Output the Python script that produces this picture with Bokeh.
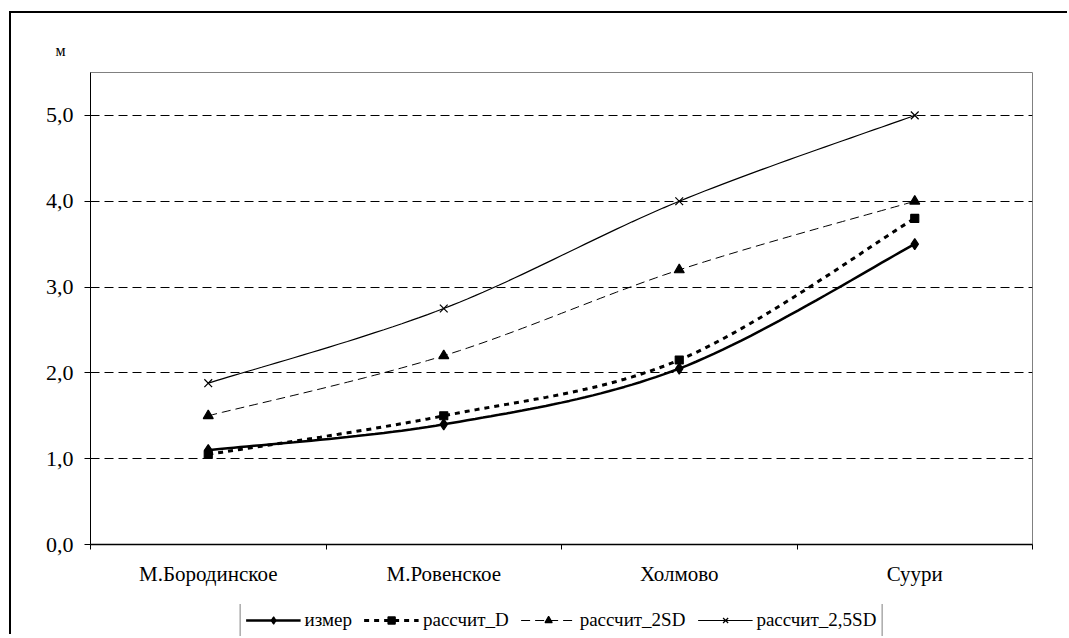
from bokeh.plotting import figure
from bokeh.layouts import column
from bokeh.models import FixedTicker, Range1d, Legend, LegendItem, Title
from bokeh.embed import file_html
from bokeh.resources import INLINE
import numpy as np

categories = ["М.Бородинское", "М.Ровенское", "Холмово", "Суури"]
izmer = [1.1, 1.4, 2.05, 3.5]
rasschit_D = [1.05, 1.5, 2.15, 3.8]
rasschit_2SD = [1.5, 2.2, 3.2, 4.0]
rasschit_25SD = [1.88, 2.75, 4.0, 5.0]
series_names = ["измер", "рассчит_D", "рассчит_2SD", "рассчит_2,5SD"]
y_ticks = [0, 1, 2, 3, 4, 5]
y_tick_labels = ["0,0", "1,0", "2,0", "3,0", "4,0", "5,0"]
unit_label = "м"

FONT = "Liberation Serif"
W = 1058


def smooth(xs, ys, n=30):
    """Excel-style smoothed line (Catmull-Rom / Bezier) through the data points."""
    px = [xs[0]] + list(xs) + [xs[-1]]
    py = [ys[0]] + list(ys) + [ys[-1]]
    ox, oy = [], []
    segs = len(xs) - 1
    for i in range(1, segs + 1):
        x0, x1, x2, x3 = px[i - 1], px[i], px[i + 1], px[i + 2]
        y0, y1, y2, y3 = py[i - 1], py[i], py[i + 1], py[i + 2]
        c1x, c1y = x1 + (x2 - x0) / 6.0, y1 + (y2 - y0) / 6.0
        c2x, c2y = x2 - (x3 - x1) / 6.0, y2 - (y3 - y1) / 6.0
        ts = np.linspace(0, 1, n, endpoint=(i == segs))
        for t in ts:
            a = (1 - t) ** 3
            b = 3 * (1 - t) ** 2 * t
            c = 3 * (1 - t) * t ** 2
            d = t ** 3
            ox.append(a * x1 + b * c1x + c * c2x + d * x2)
            oy.append(a * y1 + b * c1y + c * c2y + d * y2)
    return ox, oy


xs = [i + 0.5 for i in range(len(categories))]

title = Title(text=unit_label, align="left", offset=-35, standoff=27,
              text_font=FONT, text_font_size="16px", text_font_style="normal",
              text_color="black")

p = figure(width=W, height=582, output_backend="svg", toolbar_location=None,
           x_range=Range1d(0, len(categories)), y_range=Range1d(0, 5.5),
           min_border_left=79, min_border_right=W + 11 - 1032, min_border_top=59,
           min_border_bottom=51, title=title)
p.background_fill_color = "white"
p.border_fill_color = "white"
p.outline_line_color = "#808080"
p.outline_line_width = 1

# axes
p.xaxis.ticker = FixedTicker(ticks=xs, minor_ticks=list(range(len(categories) + 1)))
p.xaxis.major_label_overrides = {x: c for x, c in zip(xs, categories)}
p.xaxis.major_tick_out = 0
p.xaxis.major_tick_in = 0
p.xaxis.minor_tick_out = 5
p.xaxis.minor_tick_in = 0
p.xaxis.major_label_standoff = 12
p.xaxis.axis_line_color = "black"
p.xaxis.axis_line_width = 1.5
p.xaxis.minor_tick_line_color = "black"
p.xaxis.major_label_text_font = FONT
p.xaxis.major_label_text_font_size = "21px"
p.xaxis.major_label_text_color = "black"

p.yaxis.ticker = FixedTicker(ticks=y_ticks, minor_ticks=[])
p.yaxis.major_label_overrides = {t: l for t, l in zip(y_ticks, y_tick_labels)}
p.yaxis.major_tick_out = 6
p.yaxis.major_tick_in = 0
p.yaxis.major_label_standoff = 11
p.yaxis.axis_line_color = "black"
p.yaxis.axis_line_width = 1
p.yaxis.major_tick_line_color = "black"
p.yaxis.major_label_text_font = FONT
p.yaxis.major_label_text_font_size = "22px"
p.yaxis.major_label_text_color = "black"

p.xgrid.grid_line_color = None
p.ygrid.ticker = FixedTicker(ticks=[t for t in y_ticks if t > 0])
p.ygrid.grid_line_color = "black"
p.ygrid.grid_line_dash = "9 5"
p.ygrid.grid_line_width = 1

styles = [
    dict(data=izmer, width=2.5, dash="solid", marker="diamond", size=11),
    dict(data=rasschit_D, width=3, dash="5 5", marker="square", size=8),
    dict(data=rasschit_2SD, width=1, dash="9 5", marker="triangle", size=10),
    dict(data=rasschit_25SD, width=1.2, dash="solid", marker="x", size=11),
]

# legend strip: a separate small canvas below the chart, its ranges kept away from
# the series so that only the legend shows
pl = figure(width=W, height=32, output_backend="svg", toolbar_location=None,
            x_range=Range1d(-20, -19), y_range=Range1d(-20, -19), min_border=0,
            min_border_left=79, min_border_right=W + 11 - 1032,
            x_axis_type=None, y_axis_type=None)
pl.outline_line_color = None
pl.xgrid.visible = False
pl.ygrid.visible = False
pl.background_fill_color = "white"
pl.border_fill_color = "white"
pl.margin = (9, 0, 0, 0)

items = []
for name, st in zip(series_names, styles):
    sx, sy = smooth(xs, st["data"])
    p.line(sx, sy, line_color="black", line_width=st["width"], line_dash=st["dash"])
    p.scatter(xs, st["data"], marker=st["marker"], size=st["size"],
              fill_color="black", line_color="black", line_width=1.2)
    lr = pl.line(xs, st["data"], line_color="black", line_width=st["width"], line_dash=st["dash"])
    mr = pl.scatter(xs, st["data"], marker=st["marker"], size=st["size"],
                    fill_color="black", line_color="black", line_width=1.2)
    items.append(LegendItem(label=name, renderers=[lr, mr]))

legend = Legend(items=items, orientation="horizontal", location="center",
                label_text_font=FONT, label_text_font_size="19px", label_text_color="black",
                border_line_color="black", border_line_width=1, background_fill_color="white",
                background_fill_alpha=1, padding=5, spacing=12, glyph_width=55, label_standoff=4,
                margin=0, label_height=18, glyph_height=18)
pl.add_layout(legend)

layout = column(p, pl, spacing=0)
layout.styles = {"margin-left": "11px", "margin-top": "13px",
                 "box-shadow": "-2px -2px 0px 0px black"}

open("out.html", "w").write(file_html(layout, INLINE))
